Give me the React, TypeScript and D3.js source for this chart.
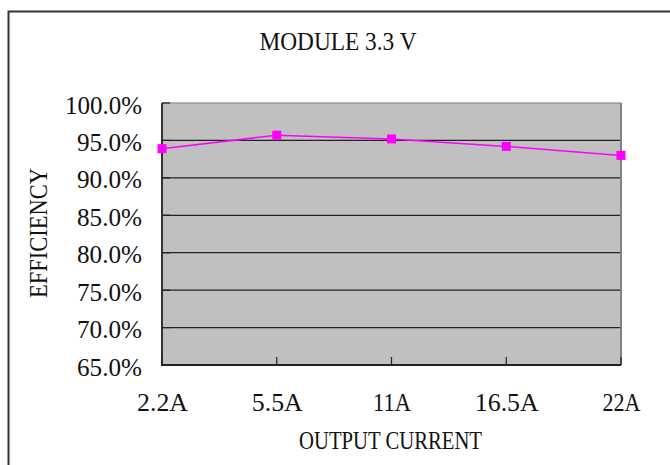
import React from "react";
import * as d3 from "d3";

const categories = ["2.2A", "5.5A", "11A", "16.5A", "22A"];
const efficiency = [0.939, 0.957, 0.952, 0.942, 0.930];
const yTicks = [0.65, 0.7, 0.75, 0.8, 0.85, 0.9, 0.95, 1.0];
const yTickLabels = ["65.0%", "70.0%", "75.0%", "80.0%", "85.0%", "90.0%", "95.0%", "100.0%"];
const title = "MODULE 3.3 V";
const xTitle = "OUTPUT CURRENT";
const yTitle = "EFFICIENCY";

const FONT = "'Liberation Serif', 'DejaVu Serif', serif";

const W = 670, H = 465;
const plot = { left: 162, right: 621, top: 103, bottom: 365 };

function T({ x, y, len, size, anchor = "middle", children, transform }: any) {
  return (
    <text
      x={x}
      y={y}
      fontFamily={FONT}
      fontSize={size}
      textAnchor={anchor}
      textLength={len}
      lengthAdjust="spacingAndGlyphs"
      fill="#111"
      transform={transform}
    >
      {children}
    </text>
  );
}

export default function App() {
  const x = d3.scalePoint<string>().domain(categories).range([plot.left, plot.right]).padding(0);
  const y = d3.scaleLinear().domain([0.65, 1.0]).range([plot.bottom, plot.top]);
  const line = d3
    .line<number>()
    .x((_, i) => x(categories[i])!)
    .y((d) => y(d));
  const ms = 9;

  const labelWidth = (s: string) => (s.length === 6 ? 77 : 65);
  const xLabelWidth: Record<string, number> = { "2.2A": 51, "5.5A": 51, "11A": 38, "16.5A": 64, "22A": 38 };

  return (
    <svg
      width={W}
      height={H}
      style={{ position: "absolute", left: 0, top: 0, background: "#fff" }}
    >
      <rect x={8.5} y={11.5} width={W + 20} height={H + 20} fill="#fff" stroke="#333" strokeWidth={2} />
      <T x={338} y={49.5} len={157} size={26}>{title}</T>

      <rect
        x={plot.left}
        y={plot.top}
        width={plot.right - plot.left}
        height={plot.bottom - plot.top}
        fill="#C0C0C0"
      />
      {yTicks
        .filter((t) => t > 0.65 && t < 1.0)
        .map((t) => (
          <line key={t} x1={plot.left} x2={plot.right} y1={y(t)} y2={y(t)} stroke="#222" strokeWidth={1.2} />
        ))}
      <line x1={plot.left} x2={plot.right} y1={plot.top} y2={plot.top} stroke="#9a9a9a" strokeWidth={1.5} />
      <line x1={plot.right} x2={plot.right} y1={plot.top} y2={plot.bottom} stroke="#808080" strokeWidth={2} />
      <line x1={plot.left} x2={plot.left} y1={plot.top} y2={plot.bottom + 1} stroke="#333" strokeWidth={2} />
      <line x1={plot.left - 1} x2={plot.right} y1={plot.bottom} y2={plot.bottom} stroke="#222" strokeWidth={2} />
      {yTicks.map((t) => (
        <line key={"yt" + t} x1={plot.left} x2={plot.left + 8} y1={y(t)} y2={y(t)} stroke="#222" strokeWidth={1.2} />
      ))}
      {categories.map((c) => (
        <line key={"xt" + c} x1={x(c)} x2={x(c)} y1={plot.bottom} y2={plot.bottom - 8} stroke="#222" strokeWidth={1.2} />
      ))}

      <path d={line(efficiency) || ""} fill="none" stroke="#FF00FF" strokeWidth={1.5} />
      {efficiency.map((v, i) => (
        <rect
          key={i}
          x={x(categories[i])! - ms / 2}
          y={y(v) - ms / 2}
          width={ms}
          height={ms}
          fill="#FF00FF"
        />
      ))}

      {yTicks.map((t, i) => (
        <T key={"yl" + t} x={142} y={y(t) + 10.5} len={labelWidth(yTickLabels[i])} size={26} anchor="end">
          {yTickLabels[i]}
        </T>
      ))}
      {categories.map((c) => (
        <T key={"xl" + c} x={x(c)! + 0.5} y={410.5} len={xLabelWidth[c]} size={26}>
          {c}
        </T>
      ))}
      <T x={390.5} y={449} len={183} size={26}>{xTitle}</T>
      <T x={0} y={0} len={130} size={25} transform="translate(47,233) rotate(-90)">
        {yTitle}
      </T>
    </svg>
  );
}
